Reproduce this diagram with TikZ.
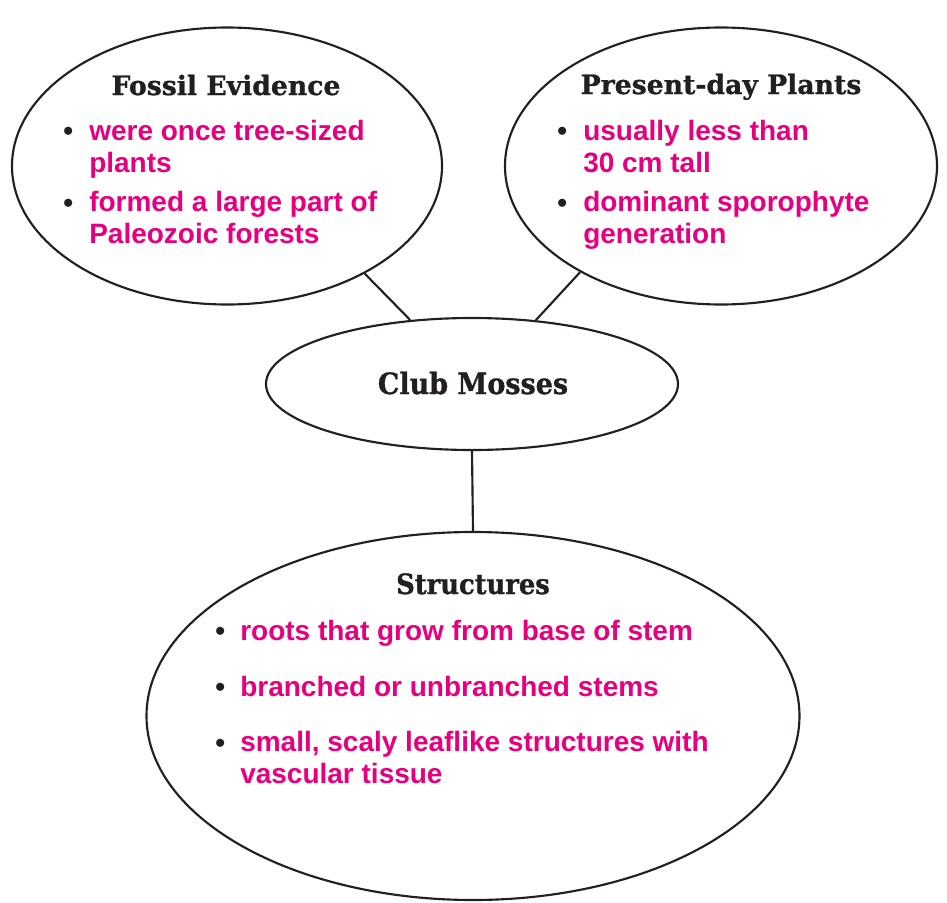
\documentclass[tikz,border=0pt]{standalone}
\usepackage{fontspec}
\usepackage{xcolor}
\usetikzlibrary{shapes.geometric,positioning}
\newfontfamily\slabfont[FakeBold=1]{DejaVu Serif}
\newfontfamily\slabnarrow[FakeStretch=0.92,FakeBold=1]{DejaVu Serif}
\newfontfamily\notefont{Liberation Sans}
\definecolor{notepink}{RGB}{230,0,126}
\definecolor{inkgray}{RGB}{35,31,32}
\newcommand{\pxu}{0.75pt}

\begin{document}
\begin{tikzpicture}[x=\pxu,y=-\pxu,
	bubble/.style={shape=ellipse, draw=inkgray, line width=1.6pt, inner sep=0pt},
	heading/.style={font=\slabfont\bfseries\fontsize{20}{24}\selectfont, text=inkgray, anchor=base, inner sep=0pt},
	note/.style={font=\notefont\bfseries\fontsize{21}{24}\selectfont, text=notepink, anchor=base west, align=left, inner sep=0pt},
	dot/.style={font=\notefont\bfseries\fontsize{21}{24}\selectfont, text=inkgray, anchor=base west, inner sep=0pt},
	link/.style={draw=inkgray, line width=1.6pt}]
	\useasboundingbox (0,0) rectangle (947,903);
	
	% bubbles
	\node[bubble, minimum width=322.5pt, minimum height=207.75pt] (fossil) at (227,166) {};
	\node[bubble, minimum width=324pt, minimum height=207.75pt] (present) at (721,166) {};
	\node[bubble, minimum width=309pt, minimum height=99pt] (club) at (472,384) {};
	\node[bubble, minimum width=489.75pt, minimum height=276pt] (structs) at (473,716) {};
	
	% headings
	\node[heading] (fossilT) at (226,95) {Fossil Evidence};
	\node[heading] (presentT) at (721,94) {Present-day Plants};
	\node[heading, font=\slabnarrow\bfseries\fontsize{22}{26}\selectfont] (clubT) at (473,394) {Club Mosses};
	\node[heading, font=\slabnarrow\bfseries\fontsize{21}{24}\selectfont] (structT) at (473,594) {Structures};
	
	% notes (base = last line)
	\node[note] (f1) at (89,172) {were once tree-sized\\plants};
	\node[note] (f2) at (89,243) {formed a large part of\\Paleozoic forests};
	\node[note] (p1) at (583,172) {usually less than\\30 cm tall};
	\node[note] (p2) at (583,243) {dominant sporophyte\\generation};
	\node[note] (s1) at (240,640) {roots that grow from base of stem};
	\node[note] (s2) at (240,696) {branched or unbranched stems};
	\node[note] (s3) at (240,783) {small, scaly leaflike structures with\\vascular tissue};
	
	\foreach \nm/\bx/\by in {f1/63/140,f2/63/212,p1/557/140,p2/557/212,s1/215/640,s2/215/696,s3/215/752}
	\node[dot] (b\nm) at (\bx,\by) {•};
	
	% links
	\draw[link] (fossil.-38) -- (club.134);
	\draw[link] (present.-143) -- (club.45);
	\draw[link] (club.south) -- (structs.north);
\end{tikzpicture}
\end{document}
